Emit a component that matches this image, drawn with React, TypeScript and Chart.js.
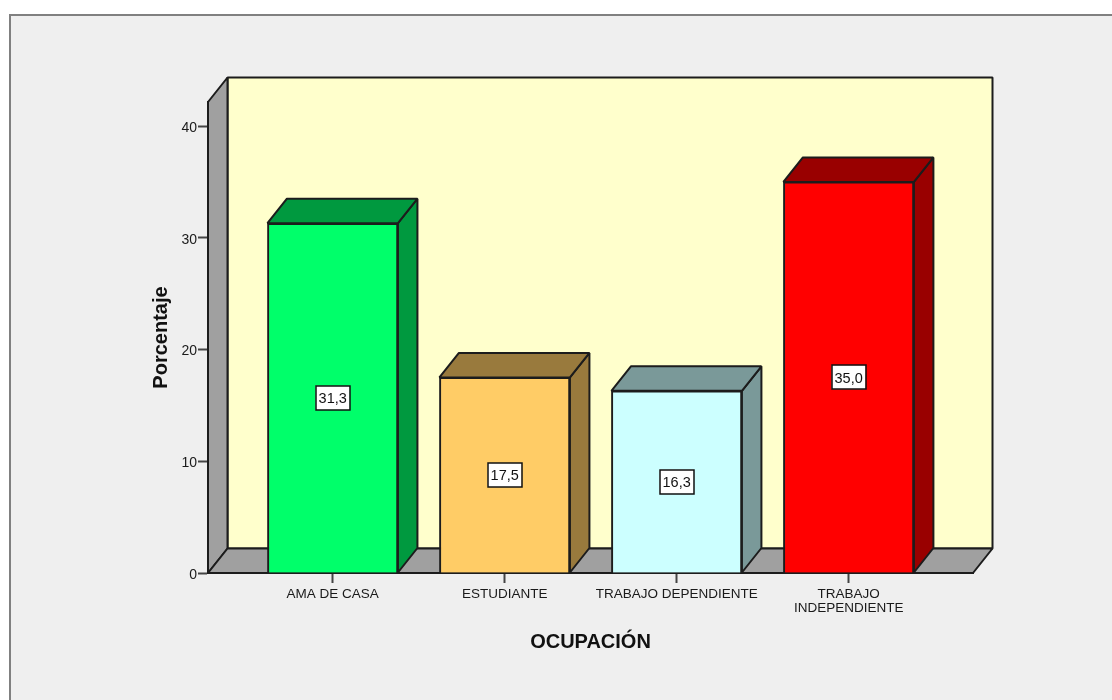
import React, { useEffect, useRef } from "react";
import { Chart, registerables } from "chart.js";

Chart.register(...registerables);

const categories: string[][] = [["AMA DE CASA"], ["ESTUDIANTE"], ["TRABAJO DEPENDIENTE"], ["TRABAJO", "INDEPENDIENTE"]];
const percentages: number[] = [31.3, 17.5, 16.3, 35.0];
const valueLabels: string[] = ["31,3", "17,5", "16,3", "35,0"];
const yTicks: number[] = [0, 10, 20, 30, 40];
const frontColors: string[] = ["#00ff6a", "#ffcc66", "#ccffff", "#ff0000"];
const shadeColors: string[] = ["#00993f", "#997a3d", "#7a9999", "#990000"];

const DX = 19.5;
const DY = 24.5;
const LINE = "#1c1c1c";
const FONT = '"Liberation Sans", Arial, sans-serif';

function poly(ctx: CanvasRenderingContext2D, pts: number[][], fill: string, width = 2) {
  ctx.beginPath();
  pts.forEach((p, i) => (i ? ctx.lineTo(p[0], p[1]) : ctx.moveTo(p[0], p[1])));
  ctx.closePath();
  ctx.fillStyle = fill;
  ctx.fill();
  ctx.lineWidth = width;
  ctx.strokeStyle = LINE;
  ctx.lineJoin = "bevel";
  ctx.stroke();
}

const box3d = {
  id: "box3d",
  beforeDatasetsDraw(chart: any) {
    const { ctx, chartArea: a } = chart;
    const l = a.left, r = a.right, t = a.top, b = a.bottom;
    ctx.save();
    poly(ctx, [[l + DX, t - DY], [r + DX, t - DY], [r + DX, b - DY], [l + DX, b - DY]], "#ffffcc");
    poly(ctx, [[l, t], [l + DX, t - DY], [l + DX, b - DY], [l, b]], "#a0a0a0");
    poly(ctx, [[l, b], [l + DX, b - DY], [r + DX, b - DY], [r, b]], "#a0a0a0");
    chart.getDatasetMeta(0).data.forEach((el: any, i: number) => {
      const x0 = el.x - el.width / 2, x1 = el.x + el.width / 2;
      poly(ctx, [[x1, el.y], [x1 + DX, el.y - DY], [x1 + DX, el.base - DY], [x1, el.base]], shadeColors[i]);
      poly(ctx, [[x0, el.y], [x0 + DX, el.y - DY], [x1 + DX, el.y - DY], [x1, el.y]], shadeColors[i]);
    });
    ctx.restore();
  },
  afterDatasetsDraw(chart: any) {
    const { ctx } = chart;
    ctx.save();
    ctx.font = `14.5px ${FONT}`;
    ctx.textAlign = "center";
    ctx.textBaseline = "middle";
    chart.getDatasetMeta(0).data.forEach((el: any, i: number) => {
      const cy = (el.y + el.base) / 2;
      const w = 34, h = 24;
      ctx.fillStyle = "#ffffff";
      ctx.fillRect(el.x - w / 2, cy - h / 2, w, h);
      ctx.lineWidth = 1.5;
      ctx.strokeStyle = "#111111";
      ctx.strokeRect(Math.round(el.x - w / 2), Math.round(cy - h / 2), w, h);
      ctx.fillStyle = "#111111";
      ctx.fillText(valueLabels[i], el.x, cy + 1.5);
    });
    ctx.restore();
  },
};

export default function App() {
  const ref = useRef<HTMLCanvasElement>(null);
  useEffect(() => {
    document.body.style.margin = "0";
    const chart = new Chart(ref.current as HTMLCanvasElement, {
      type: "bar",
      data: {
        datasets: [
          {
            data: percentages.map((y, x) => ({ x, y })),
            backgroundColor: frontColors,
            borderColor: LINE,
            borderWidth: 2,
            barThickness: 130.5,
          },
        ],
      },
      plugins: [box3d],
      options: {
        animation: false,
        responsive: false,
        parsing: false,
        layout: { padding: { left: 149, top: 102, right: 139, bottom: 46 } },
        plugins: { legend: { display: false }, tooltip: { enabled: false } },
        scales: {
          x: {
            type: "linear",
            offset: false,
            min: -0.725,
            max: 3.723,
            afterBuildTicks: (s: any) => {
              s.ticks = categories.map((_, i) => ({ value: i }));
            },
            afterFit: (s: any) => {
              s.height = 81;
            },
            grid: { offset: false, drawOnChartArea: false, drawTicks: true, tickLength: 10, tickColor: "#444", tickWidth: 2 },
            border: { color: LINE, width: 2 },
            ticks: {
              autoSkip: false,
              maxRotation: 0,
              padding: 4,
              color: "#1a1a1a",
              font: { family: FONT, size: 13.5, lineHeight: 1.03 },
              callback: (v: any) => categories[v] ?? "",
            },
            title: {
              display: true,
              text: "OCUPACIÓN",
              color: "#111",
              font: { family: FONT, size: 20, weight: "bold" },
              padding: { top: 0, bottom: 0 },
            },
          },
          y: {
            min: 0,
            max: 42.15,
            afterBuildTicks: (s: any) => {
              s.ticks = yTicks.map((value) => ({ value }));
            },
            afterFit: (s: any) => {
              s.width = 59;
            },
            grid: { drawOnChartArea: false, drawTicks: true, tickLength: 10, tickColor: "#444", tickWidth: 2 },
            border: { color: LINE, width: 2 },
            ticks: {
              padding: 1,
              labelOffset: 2,
              color: "#1a1a1a",
              font: { family: FONT, size: 14 },
            },
            title: {
              display: true,
              text: "Porcentaje",
              color: "#111",
              font: { family: FONT, size: 20, weight: "bold" },
              padding: 0,
            },
          },
        },
      },
    } as any);
    return () => chart.destroy();
  }, []);
  return (
    <div style={{ position: "relative", width: 1112, height: 700, overflow: "hidden", background: "#fff" }}>
      <div
        style={{
          position: "absolute",
          left: 9,
          top: 14,
          right: 0,
          bottom: 0,
          background: "#efefef",
          borderLeft: "2px solid #808080",
          borderTop: "2px solid #808080",
        }}
      />
      <canvas ref={ref} width={1112} height={700} style={{ position: "absolute", left: 0, top: 0, display: "block" }} />
    </div>
  );
}
